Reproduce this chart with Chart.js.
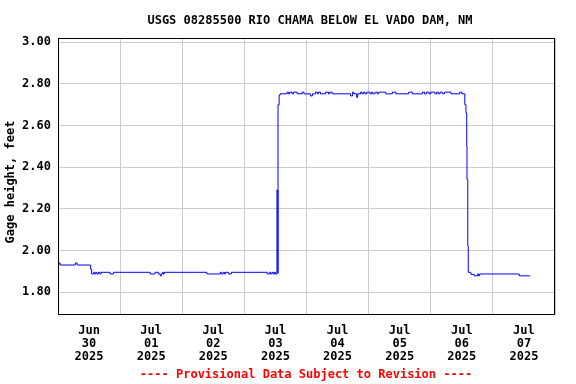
<!DOCTYPE html>
<html><head><meta charset="utf-8">
<script src="https://cdn.jsdelivr.net/npm/chart.js@4/dist/chart.umd.min.js"></script>
<style>html,body{margin:0;padding:0;background:#fff}#wrap{width:576px;height:384px;position:relative}</style>
</head><body><div id="wrap"><canvas id="c" width="576" height="384"></canvas></div>
<script>
const titleText = "USGS 08285500 RIO CHAMA BELOW EL VADO DAM, NM";
const footerText = "---- Provisional Data Subject to Revision ----";
const yAxisTitle = "Gage height, feet";
const dayLabels = [["Jun","30","2025"],["Jul","01","2025"],["Jul","02","2025"],["Jul","03","2025"],
                   ["Jul","04","2025"],["Jul","05","2025"],["Jul","06","2025"],["Jul","07","2025"]];
const yTickValues = [1.8, 2.0, 2.2, 2.4, 2.6, 2.8, 3.0];
// hours since Jun 30 2025 00:00
const hours = [0,0.3,0.8,6.7,7.4,12.6,13.0,13.8,14.2,14.6,15.0,15.6,16.2,16.6,20.1,21.4,35.6,37.5,38.8,39.5,39.9,40.3,40.7,41.1,
  57.5,62.7,63.2,63.8,64.3,64.7,65.9,67.0,80.8,81.6,82.1,82.7,83.2,83.7,84.0,84.58,84.97,85.0,85.43,85.8,
  88.5,89.0,89.5,90.4,91.0,92.4,94.3,95.0,97.5,98.3,99.5,100.2,100.6,101.4,103.4,104.5,105.0,105.9,
  113.0,113.8,114.3,115.4,115.8,116.9,117.4,118.0,118.6,119.3,120.5,121.1,121.6,122.5,123.4,123.9,126.6,
  129.2,130.5,135.5,136.9,140.8,141.6,142.4,143.3,144.0,145.6,146.3,146.9,147.6,148.5,149.3,151.8,155.2,156.0,
  157.15,157.6,157.9,158.0,158.3,158.5,159.5,160.8,162.1,162.5,162.9,178.2,182.3];
const gage = [1.93,1.94,1.93,1.94,1.93,1.91,1.887,1.895,1.887,1.895,1.887,1.895,1.887,1.895,1.887,1.895,1.887,1.895,1.887,1.878,1.887,1.895,1.887,1.895,
  1.887,1.895,1.887,1.895,1.887,1.895,1.887,1.895,1.887,1.895,1.887,1.895,1.887,1.895,1.887,2.29,1.89,2.70,2.745,2.752,
  2.76,2.752,2.76,2.752,2.76,2.752,2.76,2.752,2.742,2.752,2.76,2.752,2.76,2.752,2.76,2.752,2.76,2.752,
  2.742,2.76,2.752,2.735,2.752,2.76,2.752,2.76,2.752,2.76,2.752,2.76,2.752,2.76,2.752,2.76,2.752,
  2.76,2.752,2.76,2.752,2.76,2.752,2.76,2.752,2.76,2.752,2.76,2.752,2.76,2.752,2.76,2.752,2.76,2.752,
  2.70,2.66,2.50,2.34,2.02,1.895,1.885,1.878,1.887,1.878,1.887,1.878,1.878];

const FONT = '"DejaVu Sans Mono", monospace';

const frame = {
  id: 'frame',
  afterDraw(chart) {
    const {ctx, chartArea: a} = chart;
    ctx.save();
    ctx.strokeStyle = '#000';
    ctx.lineWidth = 1;
    ctx.strokeRect(Math.round(a.left) + 0.5, Math.round(a.top) + 0.5, Math.round(a.right - a.left) - 1, Math.round(a.bottom - a.top) - 1);
    ctx.font = 'bold 12px ' + FONT;
    ctx.textAlign = 'center';
    ctx.textBaseline = 'middle';
    ctx.fillStyle = '#000';
    ctx.fillText(titleText, 310, 21);
    ctx.save();
    ctx.translate(11, 182);
    ctx.rotate(-Math.PI / 2);
    ctx.fillText(yAxisTitle, 0, 0);
    ctx.restore();
    ctx.fillStyle = '#ff0000';
    ctx.fillText(footerText, 306, 375);
    ctx.restore();
  }
};

new Chart(document.getElementById('c'), {
  type: 'line',
  data: {
    datasets: [{
      data: hours.map((h, i) => ({x: h, y: gage[i]})),
      borderColor: '#0000ff',
      borderWidth: 1,
      pointRadius: 0,
      stepped: true,
      fill: false
    }]
  },
  options: {
    responsive: false,
    animation: false,
    devicePixelRatio: 1,
    layout: {padding: {left: 0, top: 38, right: 21, bottom: 0}},
    plugins: {legend: {display: false}, tooltip: {enabled: false}, title: {display: false}},
    scales: {
      x: {
        type: 'linear', min: 0, max: 192,
        afterFit(s) { s.height = 69; },
        afterBuildTicks(s) { s.ticks = Array.from({length: 17}, (_, i) => ({value: i * 12})); },
        grid: {
          drawTicks: false,
          color: c => (c.tick && c.tick.value % 24 === 0) ? '#cccccc' : 'rgba(0,0,0,0)',
          lineWidth: 1
        },
        border: {display: false},
        ticks: {
          autoSkip: false, maxRotation: 0, minRotation: 0, padding: 9,
          color: '#000',
          font: {family: FONT, size: 12, weight: 'bold', lineHeight: '13px'},
          callback: v => (v % 24 === 12) ? dayLabels[Math.floor(v / 24)] : ''
        }
      },
      y: {
        type: 'linear', min: 1.69, max: 3.02,
        afterFit(s) { s.width = 58; },
        afterBuildTicks(s) { s.ticks = yTickValues.map(v => ({value: v})); },
        grid: {drawTicks: false, color: '#cccccc', lineWidth: 1},
        border: {display: false},
        title: {display: false, text: yAxisTitle},
        ticks: {
          padding: 7, color: '#000',
          font: {family: FONT, size: 12, weight: 'bold'},
          callback: v => Number(v).toFixed(2)
        }
      }
    }
  },
  plugins: [frame]
});
</script></body></html>
